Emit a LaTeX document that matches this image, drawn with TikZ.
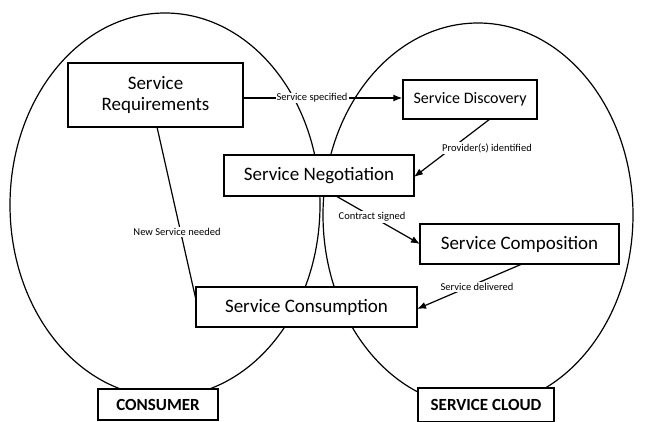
\documentclass[tikz,border=0pt]{standalone}
\usepackage{fontspec}
\setmainfont{Carlito}
\usetikzlibrary{arrows.meta}
\begin{document}
\begin{tikzpicture}[x=1pt,y=-1pt,
  stepbox/.style={draw,line width=1.5pt,fill=white,inner sep=0pt,align=center,font=\fontsize{19}{21}\selectfont},
  tagbox/.style={draw,line width=1.5pt,fill=white,inner sep=0pt,font=\bfseries\fontsize{17}{19}\selectfont},
  flow/.style={line width=1.2pt,-{Latex[length=9pt,width=7pt]}},
  lbl/.style={fill=white,inner sep=1pt,font=\fontsize{10.5}{12}\selectfont}]
\useasboundingbox (0,0) rectangle (645,422);
\draw[line width=1.2pt] (165,205) ellipse [x radius=155, y radius=192];
\draw[line width=1.2pt] (478,215) ellipse [x radius=155, y radius=192];
\node[stepbox,minimum width=175pt,minimum height=64pt] (req) at (155.5,95) {Service\\Requirements};
\node[stepbox,minimum width=134pt,minimum height=39pt,font=\fontsize{16}{18}\selectfont] (disc) at (470,99.5) {Service Discovery};
\node[stepbox,minimum width=190pt,minimum height=41pt] (neg) at (319,175.5) {Service Negotiation};
\node[stepbox,minimum width=199pt,minimum height=40pt] (comp) at (519.5,244) {Service Composition};
\node[stepbox,minimum width=221pt,minimum height=40pt] (cons) at (306.5,307) {Service Consumption};
\node[tagbox,minimum width=120pt,minimum height=31pt] (consumer) at (158,404.5) {CONSUMER};
\node[tagbox,minimum width=136pt,minimum height=34pt] (cloud) at (486,405) {SERVICE CLOUD};
\coordinate (reqB) at (157,127);
\coordinate (consW) at (196,300);
\coordinate (discB) at (490,119);
\coordinate (negE) at (414,177);
\coordinate (negB) at (336,196);
\coordinate (compW) at (420,244);
\coordinate (compB) at (522,264);
\coordinate (consE) at (417,309);
\draw[flow] (req.east |- 0,98) -- (disc.west |- 0,98);
\node[lbl] (l1) at (312,98) {Service specified};
\draw[flow] (discB) -- (negE);
\node[lbl] (l2) at (487,148) {Provider(s) identified};
\draw[flow] (negB) -- (compW);
\node[lbl] (l3) at (372,217) {Contract signed};
\draw[flow] (compB) -- (consE);
\node[lbl] (l4) at (477,287) {Service delivered};
\draw[line width=1.2pt] (consW) -- (reqB);
\node[lbl] (l5) at (177,232) {New Service needed};
\end{tikzpicture}
\end{document}
